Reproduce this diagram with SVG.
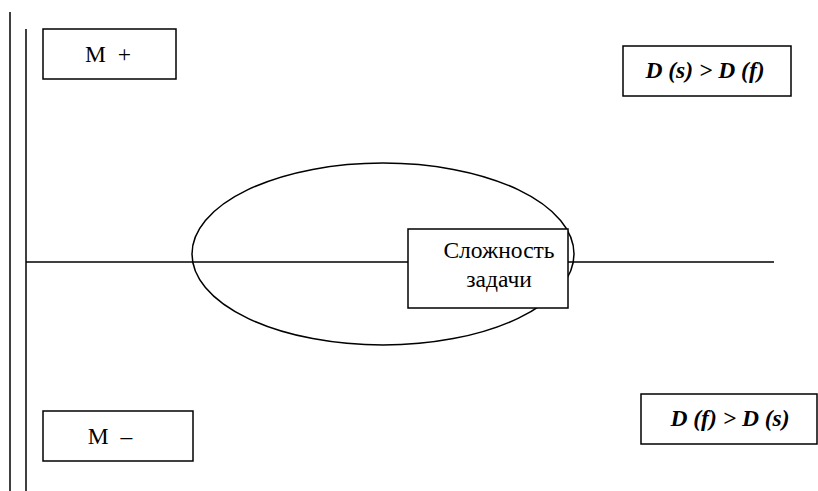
<svg xmlns="http://www.w3.org/2000/svg" width="818" height="491" viewBox="0 0 818 491">
  <style>
    .box { fill: #fff; stroke: #000; stroke-width: 1.5; }
    .ln { stroke: #000; stroke-width: 1.5; fill: none; }
    text { font-family: "Liberation Serif", "Times New Roman", "DejaVu Serif", serif; font-size: 23.5px; fill: #000; text-anchor: middle; }
    .f { font-weight: bold; font-style: italic; }
  </style>
  <rect width="818" height="491" fill="#fff"/>
  <g id="connectors">
    <line class="ln" x1="10" y1="12" x2="10" y2="491"/>
    <line class="ln" x1="26" y1="29" x2="26" y2="491"/>
    <ellipse class="ln" cx="383" cy="254" rx="191" ry="91"/>
    <line class="ln" x1="26" y1="262" x2="774" y2="262"/>
  </g>
  <g id="m-plus">
    <rect class="box" x="43" y="29" width="133" height="50"/>
    <text x="108" y="62" xml:space="preserve">M  +</text>
  </g>
  <g id="ds-gt-df">
    <rect class="box" x="623" y="46" width="168" height="50"/>
    <text class="f" x="705" y="78">D (s) &gt; D (f)</text>
  </g>
  <g id="complexity">
    <rect class="box" x="408" y="229" width="160" height="79"/>
    <text x="499" y="258">Сложность</text>
    <text x="499" y="287">задачи</text>
  </g>
  <g id="m-minus">
    <rect class="box" x="43" y="411" width="150" height="50"/>
    <text x="110" y="444" xml:space="preserve">M  –</text>
  </g>
  <g id="df-gt-ds">
    <rect class="box" x="641" y="394" width="176" height="50"/>
    <text class="f" x="730" y="426">D (f) &gt; D (s)</text>
  </g>
</svg>
